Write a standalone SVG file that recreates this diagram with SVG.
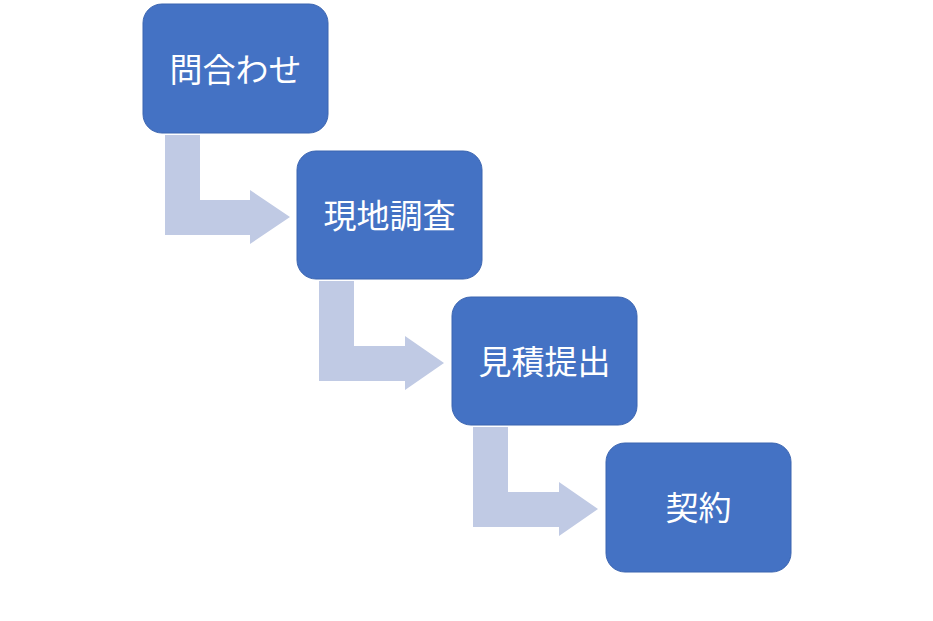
<svg xmlns="http://www.w3.org/2000/svg" width="933" height="621" viewBox="0 0 933 621">
<style>
.box{fill:#4472c4;stroke:#3a64b0;stroke-width:1}
.t{fill:#fff;font-family:"Noto Sans CJK JP","Noto Sans",sans-serif;font-size:33px;text-anchor:middle;dominant-baseline:central}
.arr{fill:#c0cae4}
</style>
<rect width="933" height="621" fill="#fff"/>
<g id="connectors">
<path class="arr" d="M165,135 H200 V200 H250 V190 L290,217 L250,244 V235 H165 Z"/>
<path class="arr" d="M319,281 H354 V346 H405 V336 L444,363 L405,390 V381 H319 Z"/>
<path class="arr" d="M473,427 H508 V492 H559 V482 L598,509 L559,536 V527 H473 Z"/>
</g>
<g id="n1"><rect class="box" x="143" y="4" width="185" height="129" rx="19"/><text class="t" x="235.5" y="68">問合わせ</text></g>
<g id="n2"><rect class="box" x="297" y="151" width="185" height="128" rx="19"/><text class="t" x="389.5" y="214">現地調査</text></g>
<g id="n3"><rect class="box" x="452" y="297" width="185" height="128" rx="19"/><text class="t" x="544.5" y="360">見積提出</text></g>
<g id="n4"><rect class="box" x="606" y="443" width="185" height="129" rx="19"/><text class="t" x="698.5" y="506">契約</text></g>
</svg>
